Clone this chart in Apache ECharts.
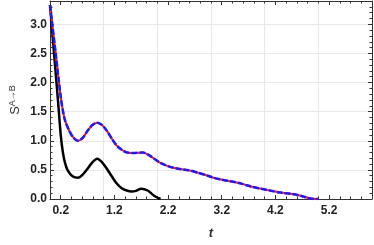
<!DOCTYPE html>
<html><head><meta charset="utf-8">
<script src="https://cdn.jsdelivr.net/npm/echarts@6/dist/echarts.min.js"></script>
<style>html,body{margin:0;padding:0;background:#fff}#c{width:374px;height:245px}</style>
</head><body><div id="c"></div>
<script>
const tBlack = [0, 0.08, 0.16, 0.20, 0.24, 0.28, 0.33, 0.42, 0.52, 0.61, 0.70, 0.79, 0.88, 0.97, 1.06, 1.15, 1.24, 1.33, 1.43, 1.52, 1.60, 1.70, 1.82, 1.94, 2.06];
const sBlack = [3.33, 2.45, 1.56, 1.10, 0.80, 0.62, 0.49, 0.39, 0.365, 0.42, 0.52, 0.63, 0.69, 0.63, 0.52, 0.39, 0.27, 0.19, 0.146, 0.13, 0.14, 0.175, 0.146, 0.057, 0];
const tBlue = [0, 0.10, 0.20, 0.24, 0.28, 0.36, 0.44, 0.52, 0.61, 0.70, 0.79, 0.88, 0.97, 1.06, 1.15, 1.24, 1.33, 1.43, 1.58, 1.73, 1.85, 2.03, 2.21, 2.39, 2.58, 2.76, 2.94, 3.03, 3.21, 3.39, 3.58, 3.76, 3.94, 4.12, 4.30, 4.48, 4.67, 4.85, 5.0];
const sBlue = [3.33, 2.55, 1.75, 1.52, 1.35, 1.17, 1.05, 1.0, 1.05, 1.17, 1.27, 1.31, 1.27, 1.17, 1.04, 0.92, 0.85, 0.80, 0.79, 0.80, 0.75, 0.635, 0.56, 0.52, 0.495, 0.45, 0.40, 0.37, 0.33, 0.30, 0.26, 0.21, 0.175, 0.14, 0.11, 0.09, 0.057, 0.007, 0];
const xTickLabels = [0.2, 1.2, 2.2, 3.2, 4.2, 5.2];
const yTickLabels = [0, 0.5, 1.0, 1.5, 2.0, 2.5, 3.0];
const xMinor = []; for (let k = 0; k <= 30; k++) xMinor.push(Math.round(k * 2) / 10);
const yMinor = []; for (let k = 0; k <= 34; k++) yMinor.push(k / 10);

const X_MIN = 0, X_MAX = 6, Y_MIN = 0, Y_MAX = 3.4;
const FONT = 'Liberation Sans, Arial, sans-serif';
const AX = '#333';

function xa(pos, extra) {
  return Object.assign({
    type: 'value', min: X_MIN, max: X_MAX, position: pos,
    axisLine: { show: false, onZero: false },
    axisTick: { show: false },
    axisLabel: { show: false },
    splitLine: { show: false }
  }, extra);
}
function ya(pos, extra) {
  return Object.assign({
    type: 'value', min: Y_MIN, max: Y_MAX, position: pos,
    axisLine: { show: false, onZero: false },
    axisTick: { show: false },
    axisLabel: { show: false },
    splitLine: { show: false }
  }, extra);
}
const labelStyle = { fontFamily: FONT, fontWeight: 'bold', fontSize: 12, color: '#222', formatter: v => Number(v).toFixed(1) };

const chart = echarts.init(document.getElementById('c'), null, { renderer: 'canvas' });
chart.setOption({
  animation: false,
  backgroundColor: '#fff',
  grid: { left: 43, right: 2, top: 1, bottom: 42, containLabel: false },
  xAxis: [
    xa('bottom', {
      interval: 1,
      axisLine: { show: true, onZero: false, lineStyle: { color: AX, width: 1 } },
      splitLine: { show: true, lineStyle: { color: '#e8e8e8', width: 1 } },
      name: 't', nameLocation: 'middle', nameGap: 28,
      nameTextStyle: { fontFamily: FONT, fontWeight: 'bold', fontStyle: 'italic', fontSize: 13, color: '#333' }
    }),
    xa('bottom', {
      axisTick: { show: true, inside: true, length: 4, customValues: xTickLabels, lineStyle: { color: AX } },
      axisLabel: Object.assign({ show: true, customValues: xTickLabels, margin: 6 }, labelStyle)
    }),
    xa('bottom', { axisTick: { show: true, inside: true, length: 2.5, customValues: xMinor, lineStyle: { color: AX } } }),
    xa('top', {
      axisLine: { show: true, onZero: false, lineStyle: { color: AX, width: 1 } },
      axisTick: { show: true, inside: true, length: 4, customValues: xTickLabels, lineStyle: { color: AX } }
    }),
    xa('top', { axisTick: { show: true, inside: true, length: 2.5, customValues: xMinor, lineStyle: { color: AX } } })
  ],
  yAxis: [
    ya('left', {
      interval: 0.5,
      axisLine: { show: true, onZero: false, lineStyle: { color: AX, width: 1 } },
      splitLine: { show: true, lineStyle: { color: '#e8e8e8', width: 1 } },
      name: '{s|S}{sup|A→B}', nameLocation: 'middle', nameGap: 28, nameRotate: 90,
      nameTextStyle: {
        rich: {
          s: { fontFamily: FONT, fontSize: 13, color: '#333', lineHeight: 14 },
          sup: { fontFamily: FONT, fontSize: 9, color: '#333', verticalAlign: 'top', lineHeight: 14 }
        }
      }
    }),
    ya('left', {
      axisTick: { show: true, inside: true, length: 4, customValues: yTickLabels, lineStyle: { color: AX } },
      axisLabel: Object.assign({ show: true, customValues: yTickLabels, margin: 3 }, labelStyle)
    }),
    ya('left', { axisTick: { show: true, inside: true, length: 2.5, customValues: yMinor, lineStyle: { color: AX } } }),
    ya('right', {
      axisLine: { show: true, onZero: false, lineStyle: { color: AX, width: 1 } },
      axisTick: { show: true, inside: true, length: 4, customValues: yTickLabels, lineStyle: { color: AX } }
    }),
    ya('right', { axisTick: { show: true, inside: true, length: 2.5, customValues: yMinor, lineStyle: { color: AX } } })
  ],
  series: [
    { type: 'line', xAxisIndex: 0, yAxisIndex: 0, data: tBlack.map((t, i) => [t, sBlack[i]]), showSymbol: false, symbol: 'none', smooth: 0.3, lineStyle: { color: '#000', width: 2.5 }, z: 3 },
    { type: 'line', xAxisIndex: 0, yAxisIndex: 0, data: tBlue.map((t, i) => [t, sBlue[i]]), showSymbol: false, symbol: 'none', smooth: 0.3, lineStyle: { color: '#ff1a1a', width: 2.0 }, z: 4 },
    { type: 'line', xAxisIndex: 0, yAxisIndex: 0, data: tBlue.map((t, i) => [t, sBlue[i]]), showSymbol: false, symbol: 'none', smooth: 0.3, lineStyle: { color: '#1a1aff', width: 2.5, type: [6, 2] }, z: 5 }
  ]
});
</script></body></html>
